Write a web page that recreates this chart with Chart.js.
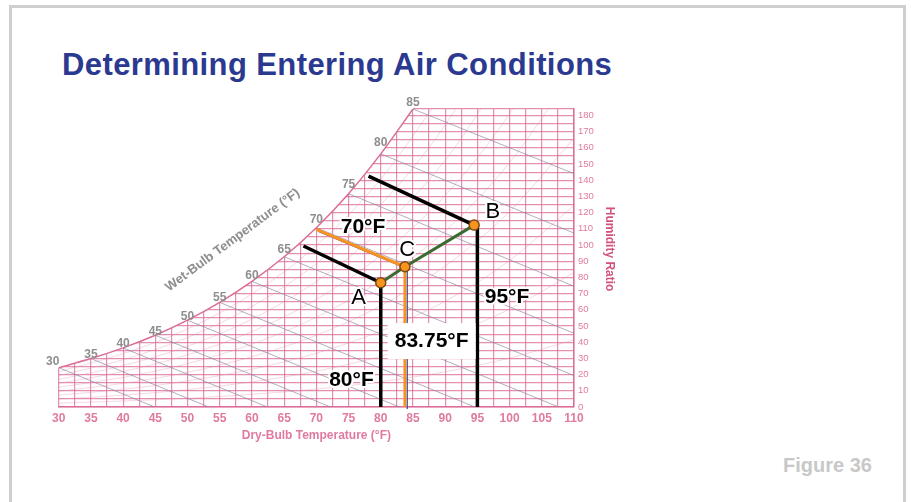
<!DOCTYPE html>
<html>
<head>
<meta charset="utf-8">
<script src="https://cdn.jsdelivr.net/npm/chart.js@4.4.1/dist/chart.umd.min.js"></script>
<style>
  body { margin: 0; background: #fff; width: 911px; height: 502px; overflow: hidden; position: relative; font-family: 'Liberation Sans', Arial, sans-serif; }
  #frame { position: absolute; left: 9px; top: 5px; width: 891px; height: 600px; border: 3px solid #cfcfcf; border-bottom: none; }
  #title { position: absolute; left: 62px; top: 49px; font-size: 31px; font-weight: bold; color: #2b3990; letter-spacing: 0.4px; line-height: 1; white-space: nowrap; }
  #fig { position: absolute; left: 783px; top: 455px; font-size: 20px; font-weight: bold; color: #c8c8c8; line-height: 1; white-space: nowrap; }
  canvas { position: absolute; left: 0; top: 0; }
</style>
</head>
<body>
<div id="frame"></div>
<div id="title">Determining Entering Air Conditions</div>
<div id="fig">Figure 36</div>
<canvas id="psychro" width="911" height="502"></canvas>
<script>
// axis labels
const dryBulbTicks = [30, 35, 40, 45, 50, 55, 60, 65, 70, 75, 80, 85, 90, 95, 100, 105, 110];
const humidityTicks = [0, 10, 20, 30, 40, 50, 60, 70, 80, 90, 100, 110, 120, 130, 140, 150, 160, 170, 180];

// saturation curve (grains / lb), also the start of each wet-bulb line
const satTemps = [30, 35, 40, 45, 50, 55, 60, 65, 70, 75, 80, 85];
const satHumidity = [24.3, 29.9, 36.5, 44.3, 53.6, 64.6, 77.6, 92.8, 110.7, 131.7, 156.3, 184];

// where each wet-bulb line leaves the chart
const wbEndTemps = [44.9, 53.3, 62.4, 72.2, 82.9, 94.6, 107.6, 110, 110, 110, 110, 110];
const wbEndHumidity = [0, 0, 0, 0, 0, 0, 0, 19.4, 45.5, 74.6, 107.4, 144.1];

// relative humidity curves (faint)
const rhTemps = [30, 40, 50, 60, 70, 80, 90, 100, 110];
const rh10 = [2.4, 3.7, 5.4, 7.8, 11.1, 15.6, 21.8, 30.2, 41.5];
const rh20 = [4.9, 7.3, 10.7, 15.5, 22.1, 31.3, 43.5, 60.4, 83.0];
const rh30 = [7.3, 11.0, 16.1, 23.3, 33.2, 46.9, 65.3, 90.5, 124.5];
const rh40 = [9.7, 14.6, 21.4, 31.0, 44.3, 62.5, 87.0, 120.7, 166.0];
const rh50 = [12.2, 18.3, 26.8, 38.8, 55.4, 78.2, 108.8, 150.9, 207.5];
const rh60 = [14.6, 21.9, 32.2, 46.6, 66.4, 93.8, 130.6, 181.1, 249.0];
const rh70 = [17.0, 25.6, 37.5, 54.3, 77.5, 109.4, 152.3, 211.3];
const rh80 = [19.4, 29.2, 42.9, 62.1, 88.6, 125.0, 174.1, 241.4];
const rh90 = [21.9, 32.9, 48.2, 69.8, 99.6, 140.7, 195.8];

// air states A (return), B (outdoor), C (mixed)
const pointTemps = [80, 94.5, 83.75];
const pointHumidity = [76.7, 112.3, 86.6];
const mixTemps = [80, 83.75, 94.5];
const mixHumidity = [76.7, 86.6, 112.3];

// wet-bulb lines through the states
const wbATemps = [68, 80];
const wbAHumidity = [99.4, 76.7];
const wbBTemps = [78.1, 94.5];
const wbBHumidity = [142.6, 112.3];
const wbCTemps = [70, 83.75];
const wbCHumidity = [109.7, 86.6];

// dry-bulb drop lines
const dryBulbLineTemps = [80, 83.75, 95];
const dryBulbLineTops = [76.7, 86.6, 112.3];

Chart.defaults.font.family = "'Liberation Sans', Arial, sans-serif";

const PINK = '#dc6d97';
const GRID = 'rgba(216, 100, 144, 0.72)';

function pts(xs, ys) {
    return ys.map((y, i) => ({ x: xs[i], y: y }));
}

function line(data, color, width, order, extra) {
    return Object.assign({
        data: data,
        showLine: true,
        borderColor: color,
        borderWidth: width,
        pointRadius: 0,
        fill: false,
        order: order
    }, extra || {});
}

const datasets = [];
datasets.push(line(pts(satTemps, satHumidity), PINK, 1.5, 100, { cubicInterpolationMode: 'monotone', label: 'sat' }));
[rh10, rh20, rh30, rh40, rh50, rh60, rh70, rh80, rh90].forEach(function(r) {
    datasets.push(line(pts(rhTemps, r), 'rgba(226, 140, 174, 0.35)', 1, 90, { cubicInterpolationMode: 'monotone' }));
});
satTemps.forEach(function(t, i) {
    datasets.push(line([{ x: t, y: satHumidity[i] }, { x: wbEndTemps[i], y: wbEndHumidity[i] }], 'rgba(135, 130, 160, 0.65)', 1, 80));
});

// black lines
datasets.push(line(pts(wbATemps, wbAHumidity), '#000', 3.5, 20));
datasets.push(line(pts(wbBTemps, wbBHumidity), '#000', 3.5, 20));
datasets.push(line([{ x: dryBulbLineTemps[0], y: dryBulbLineTops[0] }, { x: dryBulbLineTemps[0], y: 0 }], '#000', 3.5, 20));
datasets.push(line([{ x: dryBulbLineTemps[2], y: dryBulbLineTops[2] }, { x: dryBulbLineTemps[2], y: 0 }], '#000', 3.5, 20));

// orange line for C, with its thin blue shadow
const orangeData = pts(wbCTemps, wbCHumidity).concat([{ x: dryBulbLineTemps[1], y: 0 }]);
datasets.push(line(orangeData, '#2f3f9f', 1.2, 16, { label: 'shadow' }));
datasets.push(line(orangeData, '#f7931e', 3, 15));

// mixing line
datasets.push(line(pts(mixTemps, mixHumidity), '#3a6b30', 3, 10));

// state points
datasets.push({
    data: pts(pointTemps, pointHumidity),
    showLine: false,
    pointRadius: 5,
    pointBorderWidth: 1.5,
    pointBackgroundColor: '#f7941d',
    pointBorderColor: '#7a4a10',
    order: 0
});

// white mask above the saturation curve
const satMask = {
    id: 'satMask',
    beforeDatasetsDraw(chart) {
        const meta = chart.getDatasetMeta(0);
        const area = chart.chartArea;
        const ctx = chart.ctx;
        const first = meta.data[0];
        const last = meta.data[meta.data.length - 1];
        ctx.save();
        ctx.beginPath();
        meta.dataset.path(ctx);
        ctx.lineTo(last.x, area.top - 3);
        ctx.lineTo(area.left - 3, area.top - 3);
        ctx.lineTo(area.left - 3, first.y);
        ctx.closePath();
        ctx.fillStyle = '#fff';
        ctx.fill();
        ctx.restore();
    }
};

const shadowShift = {
    id: 'shadowShift',
    beforeDatasetDraw(chart, args) {
        if (chart.data.datasets[args.index].label === 'shadow') {
            chart.ctx.save();
            chart.ctx.translate(2.3, 2);
        }
    },
    afterDatasetDraw(chart, args) {
        if (chart.data.datasets[args.index].label === 'shadow') {
            chart.ctx.restore();
        }
    }
};

function haloText(ctx, text, px, py) {
    ctx.strokeText(text, px, py);
    ctx.fillText(text, px, py);
}

const overlay = {
    id: 'overlay',
    afterDatasetsDraw(chart) {
        const ctx = chart.ctx;
        const x = chart.scales.x;
        const y = chart.scales.y;
        const area = chart.chartArea;
        ctx.save();

        // wet-bulb numbers along the saturation curve
        ctx.font = 'bold 12px "Liberation Sans"';
        ctx.fillStyle = '#8e8e8e';
        ctx.textAlign = 'center';
        ctx.textBaseline = 'middle';
        satTemps.forEach(function(t, i) {
            let px = x.getPixelForValue(t);
            const py = y.getPixelForValue(satHumidity[i]);
            const k = Math.max(i - 1, 0);
            const j = Math.min(i + 1, satTemps.length - 1);
            const slope = (y.getPixelForValue(satHumidity[k]) - y.getPixelForValue(satHumidity[j])) /
                (x.getPixelForValue(satTemps[j]) - x.getPixelForValue(satTemps[k]));
            let off = 4 + 9 * Math.max(0, slope - 0.55);
            if (py <= area.top + 1) off = 6;
            if (i === 0) { px -= 6; off = 6; }
            ctx.fillText(String(t), px, py - off);
        });

        // wet-bulb axis title
        ctx.save();
        ctx.translate(x.getPixelForValue(57), y.getPixelForValue(103));
        ctx.rotate(-36.5 * Math.PI / 180);
        ctx.font = 'bold 13px "Liberation Sans"';
        ctx.fillText('Wet-Bulb Temperature (°F)', 0, 0);
        ctx.restore();

        // humidity ratio title
        ctx.save();
        ctx.translate(area.right + 35, y.getPixelForValue(97.5));
        ctx.rotate(Math.PI / 2);
        ctx.font = 'bold 12px "Liberation Sans"';
        ctx.fillStyle = '#d2527f';
        ctx.fillText('Humidity Ratio', 0, 0);
        ctx.restore();

        // state and temperature notes
        ctx.fillStyle = '#000';
        ctx.strokeStyle = '#fff';
        ctx.lineWidth = 4;
        ctx.lineJoin = 'round';
        ctx.font = '22px "Liberation Sans"';
        haloText(ctx, 'A', x.getPixelForValue(76.55), y.getPixelForValue(67.6));
        haloText(ctx, 'B', x.getPixelForValue(97.4), y.getPixelForValue(120.4));
        haloText(ctx, 'C', x.getPixelForValue(84.1), y.getPixelForValue(96.9));
        ctx.font = 'bold 21px "Liberation Sans"';
        haloText(ctx, '70°F', x.getPixelForValue(77.25), y.getPixelForValue(111.1));
        haloText(ctx, '95°F', x.getPixelForValue(99.6), y.getPixelForValue(67.6));
        haloText(ctx, '80°F', x.getPixelForValue(75.45), y.getPixelForValue(16.7));

        const bx = x.getPixelForValue(87.9);
        const by = y.getPixelForValue(40.7);
        ctx.fillStyle = '#fff';
        ctx.fillRect(bx - 44, by - 18, 88, 36);
        ctx.fillStyle = '#000';
        ctx.fillText('83.75°F', bx, by);
        ctx.restore();
    }
};

new Chart(document.getElementById('psychro').getContext('2d'), {
    type: 'scatter',
    data: { datasets: datasets },
    plugins: [satMask, shadowShift, overlay],
    options: {
        responsive: false,
        animation: false,
        events: [],
        layout: { padding: { left: 58.7, top: 109, right: 299, bottom: 59 } },
        plugins: { legend: { display: false }, tooltip: { enabled: false } },
        scales: {
            x: {
                type: 'linear',
                min: 30,
                max: 110,
                afterFit: function(s) { s.height = 36; },
                grid: { color: GRID, lineWidth: 1.2, drawTicks: false },
                border: { color: PINK, width: 1.5 },
                ticks: {
                    stepSize: 2.5,
                    autoSkip: false,
                    maxRotation: 0,
                    minRotation: 0,
                    padding: 4,
                    color: '#e07aa0',
                    font: { size: 12, weight: 'bold' },
                    callback: function(v) { return dryBulbTicks.includes(v) ? String(v) : ''; }
                },
                title: {
                    display: true,
                    text: 'Dry-Bulb Temperature (°F)',
                    color: '#e07aa0',
                    font: { size: 12, weight: 'bold' },
                    padding: { top: 0, bottom: 0 }
                }
            },
            y: {
                type: 'linear',
                position: 'right',
                min: 0,
                max: 184,
                afterFit: function(s) { s.width = 38; },
                afterBuildTicks: function(s) {
                    const t = [];
                    for (let v = 0; v <= 180; v += 5) t.push({ value: v });
                    t.push({ value: 184 });
                    s.ticks = t;
                },
                grid: { color: GRID, lineWidth: 1.2, drawTicks: false },
                border: { color: PINK, width: 1.5 },
                ticks: {
                    autoSkip: false,
                    padding: 4,
                    color: '#e07aa0',
                    font: { size: 9.5 },
                    callback: function(v) { return humidityTicks.includes(v) ? String(v) : ''; }
                }
            }
        }
    }
});
</script>
</body>
</html>
